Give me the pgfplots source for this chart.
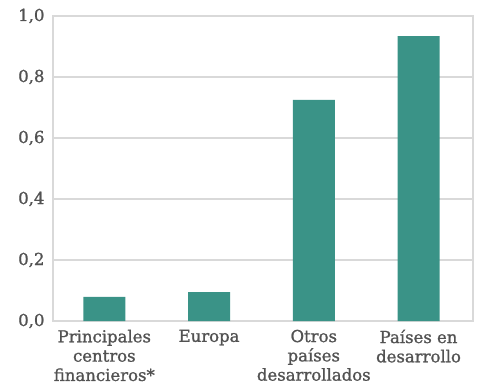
\documentclass[border=0pt]{standalone}
\usepackage{pgfplots}
\pgfplotsset{compat=1.18}
\usepackage{fontspec}
\setmainfont{DejaVu Serif}
\newfontfamily\labelfont{DejaVu Serif}[FakeBold=1.2]
\definecolor{barteal}{HTML}{3A9387}
\definecolor{gridgray}{HTML}{D9D9D9}
\definecolor{textgray}{HTML}{525252}
\begin{document}
\begin{tikzpicture}
\begin{axis}[
  scale only axis,
  width=420pt, height=305pt,
  ymin=0, ymax=1,
  xmin=-0.49, xmax=3.52,
  ytick={0,0.2,0.4,0.6,0.8,1.0},
  y tick label style={
    /pgf/number format/fixed,
    /pgf/number format/fixed zerofill,
    /pgf/number format/precision=1,
    /pgf/number format/use comma,
    text=textgray, font=\labelfont\fontsize{16.5}{19}\selectfont, xshift=-5pt},
  /pgf/number format/assume math mode=true,
  xtick={0,1,2,3},
  xticklabels={Principales\\centros\\financieros*,Europa,Otros\\países\\desarrollados,Países en\\desarrollo},
  x tick label style={align=center, text=textgray, font=\labelfont\fontsize{16.5}{19.3}\selectfont, yshift=-1pt},
  tick style={draw=none},
  ymajorgrids,
  grid style={gridgray, line width=1.2pt},
  axis line style={gridgray, line width=1.2pt},
  ybar, bar width=42pt,
  clip=false,
]
\addplot[fill=barteal, draw=none] coordinates {(0,0.079) (1,0.095) (2,0.725) (3,0.934)};
\end{axis}
\pgfresetboundingbox
\path[use as bounding box] ([shift={(-53pt,-65pt)}]current axis.south west) rectangle ([shift={(5pt,16pt)}]current axis.north east);
\end{tikzpicture}
\end{document}
